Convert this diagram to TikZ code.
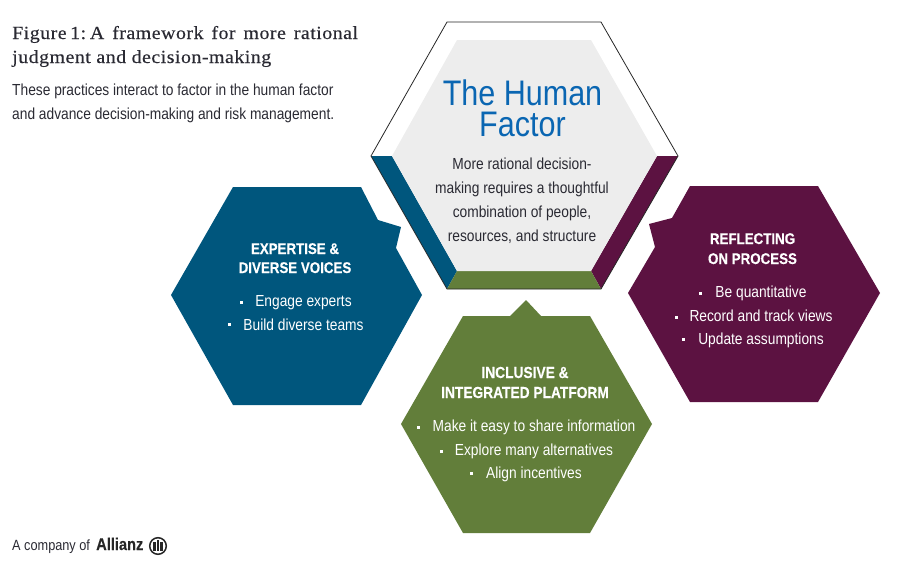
\documentclass[tikz,border=0pt]{standalone}
\usepackage{fontspec}
\setmainfont{Liberation Sans}
\newfontfamily\bodyf[FakeStretch=0.86]{Liberation Sans}
\newfontfamily\headf[FakeStretch=0.86,BoldFont={Liberation Sans Bold},BoldFeatures={FakeBold=0.25}]{Liberation Sans}
\newfontfamily\titlef[LetterSpace=2.5,FakeStretch=1.08,FakeBold=0.3]{Liberation Serif}
\definecolor{cblue}{HTML}{00567D}
\definecolor{cplum}{HTML}{5C1241}
\definecolor{cgreen}{HTML}{627E3A}
\definecolor{cgrey}{HTML}{EDEDED}
\definecolor{ctitle}{HTML}{0A66B2}
\definecolor{cink}{HTML}{2A2A33}
\tikzset{
  body/.style={font=\bodyf\fontsize{16}{16}\selectfont,text=cink,inner sep=0pt,anchor=base},
  wtext/.style={font=\bodyf\fontsize{16}{16}\selectfont,text=white,inner sep=0pt,anchor=base},
  whead/.style={font=\headf\bfseries\fontsize{15.5}{15.5}\selectfont,text=white,inner sep=0pt,anchor=base},
  wheadg/.style={font=\headf\bfseries\fontsize{16}{16}\selectfont,text=white,inner sep=0pt,anchor=base},
  bigt/.style={font=\bodyf\fontsize{35.5}{31}\selectfont,text=ctitle,inner sep=0pt,anchor=base,align=center},
  ttl/.style={font=\titlef\fontsize{18.5}{18.5}\selectfont,text=cink,inner sep=0pt,anchor=base west},
  bul/.style={fill=white,minimum size=3pt,inner sep=0pt,outer sep=0pt},
}
\begin{document}
\begin{tikzpicture}[x=1pt,y=-1pt]
\useasboundingbox (0,0) rectangle (916,576);
% central hexagon
\fill[cblue] (371,156) -- (392,156) -- (457,271) -- (447,289) -- cycle;
\fill[cplum] (678,156) -- (657,156) -- (591,271) -- (601,289) -- cycle;
\fill[cgreen] (457,271) -- (591,271) -- (601,289) -- (447,289) -- cycle;
\fill[cgrey] (457,40) -- (591,40) -- (657,156) -- (591,271) -- (457,271) -- (392,156) -- cycle;
\draw[line width=.8pt,black!85] (447,22) -- (601,22) -- (678,156) -- (601,289) -- (447,289) -- (371,156) -- cycle;
% blue
\fill[cblue] (171,295) -- (233,187) -- (361,187) -- (378,220) -- (401,227) -- (396,248) -- (422,295) -- (361,405) -- (233,405) -- cycle;
% plum
\fill[cplum] (628,293) -- (655,247) -- (649,224) -- (672,218) -- (690,186) -- (818,186) -- (880,293) -- (818,402) -- (690,402) -- cycle;
% green
\fill[cgreen] (401,424) -- (463,316) -- (510,316) -- (526,300) -- (541,316) -- (590,316) -- (652,424) -- (590,533) -- (463,533) -- cycle;
% header
\node[ttl] (t1) at (12,39) {Figure\kern-2pt{} 1:\kern-3.5pt{} A\kern2.4pt{} framework\kern2.4pt{} for\kern2.4pt{} more\kern2.4pt{} rational};
\node[ttl] (t2) at (12,63) {judgment and decision-making};
\node[body,anchor=base west] (s1) at (12,95) {These practices interact to factor in the human factor};
\node[body,anchor=base west] (s2) at (12,119) {and advance decision-making and risk management.};
% central text
\node[bigt] (h1) at (522.5,136) {The Human\\Factor};
\node[body] (c1) at (522,169) {More rational decision-};
\node[body] (c2) at (522,193) {making requires a thoughtful};
\node[body] (c3) at (522,217) {combination of people,};
\node[body] (c4) at (522,241) {resources, and structure};
% blue text
\node[whead] (b1) at (295,254) {EXPERTISE \&};
\node[whead] (b2) at (295,273) {DIVERSE VOICES};
\node[wtext] (b3) at (303.5,306) {Engage experts};
\node[wtext] (b4) at (303.5,330) {Build diverse teams};
\node[bul] (bb1) at (241,302) {};
\node[bul] (bb2) at (229,324) {};
% plum text
\node[whead] (p1) at (752.5,244) {REFLECTING};
\node[whead] (p2) at (752.5,264) {ON PROCESS};
\node[wtext] (p3) at (761,297) {Be quantitative};
\node[wtext] (p4) at (761,321) {Record and track views};
\node[wtext] (p5) at (761,344) {Update assumptions};
\node[bul] (pb1) at (700,293) {};
\node[bul] (pb2) at (676,317) {};
\node[bul] (pb3) at (683,339) {};
% green text
\node[wheadg] (g1) at (525,378) {INCLUSIVE \&};
\node[wheadg] (g2) at (525,398) {INTEGRATED PLATFORM};
\node[wtext] (g3) at (534,431) {Make it easy to share information};
\node[wtext] (g4) at (534,455) {Explore many alternatives};
\node[wtext] (g5) at (534,478) {Align incentives};
\node[bul] (gb1) at (418,427) {};
\node[bul] (gb2) at (441,451) {};
\node[bul] (gb3) at (471,473) {};
% footer
\node[inner sep=0pt,anchor=base west,font=\bodyf\fontsize{14.8}{14.8}\selectfont,text=cink] (f1) at (12,550) {A company of};
\node[inner sep=0pt,anchor=base west,font=\headf\bfseries\fontsize{17}{17}\selectfont,text=black!85] (f2) at (96,550) {Allianz};
\draw[black!85,line width=1.5pt] (158,546) circle (8.3pt);
\fill[black!85] (153.4,542) rectangle (155.6,551);
\fill[black!85] (156.9,540) rectangle (159.1,551);
\fill[black!85] (160.4,542) rectangle (162.6,551);
\end{tikzpicture}
\end{document}
